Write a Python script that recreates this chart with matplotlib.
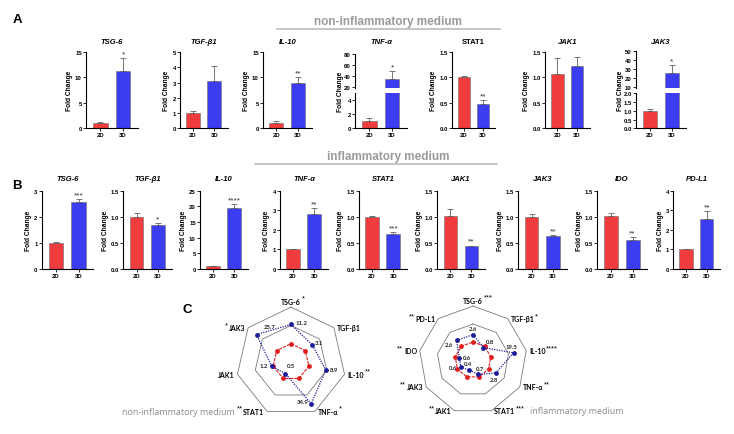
import numpy as np
import matplotlib
matplotlib.use("Agg")
import matplotlib.pyplot as plt
from matplotlib.lines import Line2D

plt.rcParams['font.family'] = ['Liberation Sans', 'DejaVu Sans']

### DATA ###

A_genes = ['TSG-6', 'TGF-β1', 'IL-10', 'TNF-α', 'STAT1', 'JAK1', 'JAK3']
A_2d = [1.0, 1.0, 1.1, 1.1, 1.0, 1.07, 1.0]
A_2d_err = [0.15, 0.12, 0.3, 0.4, 0.03, 0.32, 0.1]
A_3d = [11.2, 3.1, 8.9, 34.9, 0.48, 1.22, 25.7]
A_3d_err = [2.7, 1.0, 1.1, 14.0, 0.07, 0.19, 8.0]
A_stars = ['*', '', '**', '*', '**', '', '*']

B_genes = ['TSG-6', 'TGF-β1', 'IL-10', 'TNF-α', 'STAT1', 'JAK1', 'JAK3', 'IDO', 'PD-L1']
B_2d = [1.0, 1.0, 0.9, 1.0, 1.0, 1.01, 1.0, 1.01, 1.0]
B_2d_err = [0.05, 0.07, 0.2, 0.03, 0.02, 0.13, 0.05, 0.06, 0.01]
B_3d = [2.55, 0.85, 19.5, 2.8, 0.68, 0.44, 0.63, 0.55, 2.57]
B_3d_err = [0.13, 0.03, 1.2, 0.3, 0.02, 0.01, 0.02, 0.06, 0.38]
B_stars = ['***', '*', '****', '**', '***', '**', '**', '**', '**']

# radar (panel C)
radC1_labels = ['TSG-6', 'TGF-β1', 'IL-10', 'TNF-α', 'STAT1', 'JAK1', 'JAK3']
radC1_2d = [1, 1, 1, 1, 1, 1, 1]
radC1_3d = [11.2, 3.1, 8.9, 34.9, 0.5, 1.2, 25.7]
radC1_stars = ['*', '', '**', '*', '**', '', '*']

radC2_labels = ['TSG-6', 'TGF-β1', 'IL-10', 'TNF-α', 'STAT1', 'JAK1', 'JAK3', 'IDO', 'PD-L1']
radC2_2d = [1, 1, 1, 1, 1, 1, 1, 1, 1]
radC2_3d = [2.6, 0.8, 19.5, 2.8, 0.7, 0.4, 0.6, 0.6, 2.6]
radC2_stars = ['***', '*', '****', '**', '***', '**', '**', '**', '**']

radar_rings = [10, 100]

### LAYOUT ###

W, H = 734, 435
fig = plt.figure(figsize=(W / 100, H / 100), dpi=100)

RED = '#f03c3c'
BLUE = '#3c3cf0'
GREY_TXT = '#9a9a9a'


def px_axes(x0, y0, x1, y1):
    return fig.add_axes([x0 / W, 1 - y1 / H, (x1 - x0) / W, (y1 - y0) / H])


def fx(x):
    return x / W


def fy(y):
    return 1 - y / H


def style_ax(ax):
    ax.spines['top'].set_visible(False)
    ax.spines['right'].set_visible(False)
    ax.spines['left'].set_linewidth(0.8)
    ax.spines['bottom'].set_linewidth(0.8)
    ax.tick_params(length=2, width=0.6, labelsize=4.3, pad=1)
    for t in ax.get_xticklabels() + ax.get_yticklabels():
        t.set_fontweight('bold')


def draw_bars(ax, v2, e2, v3, e3):
    ax.bar([0, 1], [v2, v3], width=0.64, color=[RED, BLUE],
           edgecolor='#707070', linewidth=0.4, zorder=2)
    ax.errorbar([0, 1], [v2, v3], yerr=[[0, 0], [e2, e3]], fmt='none',
                ecolor='#606060', elinewidth=0.6, capsize=2, capthick=0.6, zorder=3)
    ax.set_xlim(-0.62, 1.65)


def star(ax, v, e, s):
    if s:
        ax.annotate(s, (1, v + e), xytext=(0, 0.5), textcoords='offset points',
                    ha='center', va='bottom', fontsize=6, color='#333333')


def bar_panel(box, v2, e2, v3, e3, ylim, yticks, labels, s, title, title_y, italic=True):
    ax = px_axes(*box)
    draw_bars(ax, v2, e2, v3, e3)
    ax.set_ylim(*ylim)
    ax.set_yticks(yticks)
    ax.set_yticklabels(labels)
    ax.set_xticks([0, 1])
    ax.set_xticklabels(['2D', '3D'])
    style_ax(ax)
    ax.set_ylabel('Fold Change', fontsize=4.8, fontweight='bold', labelpad=1.5)
    star(ax, v3, e3, s)
    fig.text(fx((box[0] + box[2]) / 2), fy(title_y), title, ha='center', va='center',
             fontsize=5.5, fontweight='bold', style='italic' if italic else 'normal')
    return ax


def broken_panel(box, split, v2, e2, v3, e3, up_lim, up_ticks, up_labels,
                 lo_lim, lo_ticks, lo_labels, s, title, title_y):
    x0, y0, x1, y1 = box
    top = px_axes(x0, y0, x1, split[0])
    bot = px_axes(x0, split[1], x1, y1)
    for ax in (top, bot):
        draw_bars(ax, v2, e2, v3, e3)
    top.set_ylim(*up_lim)
    top.set_yticks(up_ticks)
    top.set_yticklabels(up_labels)
    top.set_xticks([])
    bot.set_ylim(*lo_lim)
    bot.set_yticks(lo_ticks)
    bot.set_yticklabels(lo_labels)
    bot.set_xticks([0, 1])
    bot.set_xticklabels(['2D', '3D'])
    style_ax(top)
    style_ax(bot)
    top.spines['bottom'].set_visible(False)
    star(top, v3, e3, s)
    fig.text(fx(x0 - 15), fy((y0 + y1) / 2), 'Fold Change', rotation=90, ha='center',
             va='center', fontsize=4.8, fontweight='bold')
    fig.text(fx((x0 + x1) / 2), fy(title_y), title, ha='center', va='center',
             fontsize=5.5, fontweight='bold', style='italic')


### ROW A ###
A_x = [(86, 138), (180, 228), (263, 312), (355, 407), (452, 495), (545, 590), (636, 686)]
A_ylims = [(0, 15), (0, 5), (0, 15), None, (0, 1.5), (0, 1.5), None]
A_yticks = [[0, 5, 10, 15], [0, 1, 2, 3, 4, 5], [0, 5, 10, 15], None,
            [0, 0.5, 1.0, 1.5], [0, 0.5, 1.0, 1.5], None]
A_ylabels = [['0', '5', '10', '15'], ['0', '1', '2', '3', '4', '5'], ['0', '5', '10', '15'], None,
             ['0.0', '0.5', '1.0', '1.5'], ['0.0', '0.5', '1.0', '1.5'], None]

for i, g in enumerate(A_genes):
    xa, xb = A_x[i]
    if g == 'TNF-α':
        broken_panel((xa, 55, xb, 129.3), (89.3, 94.3), A_2d[i], A_2d_err[i], A_3d[i], A_3d_err[i],
                     (18.2, 80), [20, 40, 60, 80], ['20', '40', '60', '80'],
                     (0, 5), [0, 2, 4], ['0', '2', '4'], A_stars[i], g, 42)
    elif g == 'JAK3':
        broken_panel((xa, 51.7, xb, 129.3), (89.3, 94.3), A_2d[i], A_2d_err[i], A_3d[i], A_3d_err[i],
                     (8.5, 50), [10, 20, 30, 40, 50], ['10', '20', '30', '40', '50'],
                     (0, 2), [0, 0.5, 1.0, 1.5, 2.0], ['0.0', '0.5', '1.0', '1.5', '2.0'],
                     A_stars[i], g, 42)
    else:
        bar_panel((xa, 53, xb, 129.3), A_2d[i], A_2d_err[i], A_3d[i], A_3d_err[i],
                  A_ylims[i], A_yticks[i], A_ylabels[i], A_stars[i], g, 42,
                  italic=(g != 'STAT1'))

### ROW B ###
B_x = [(41.7, 93.3), (123.3, 171.7), (200, 248), (280, 328), (359, 407),
       (437.3, 485), (518.3, 566.7), (597.3, 646.7), (673.3, 720)]
tk15 = [0, 0.5, 1.0, 1.5]
lb15 = ['0.0', '0.5', '1.0', '1.5']
B_ylims = [(0, 3), (0, 1.5), (0, 25), (0, 4), (0, 1.5), (0, 1.5), (0, 1.5), (0, 1.5), (0, 4)]
B_yticks = [[0, 1, 2, 3], tk15, [0, 5, 10, 15, 20, 25], [0, 1, 2, 3, 4], tk15, tk15, tk15, tk15,
            [0, 1, 2, 3, 4]]
B_ylabels = [['0', '1', '2', '3'], lb15, ['0', '5', '10', '15', '20', '25'],
             ['0', '1', '2', '3', '4'], lb15, lb15, lb15, lb15, ['0', '1', '2', '3', '4']]

for i, g in enumerate(B_genes):
    xa, xb = B_x[i]
    bar_panel((xa, 191.7, xb, 270), B_2d[i], B_2d_err[i], B_3d[i], B_3d_err[i],
              B_ylims[i], B_yticks[i], B_ylabels[i], B_stars[i], g, 179.3)

### HEADERS ###
fig.text(fx(388), fy(22), 'non-inflammatory medium', ha='center', va='center',
         fontsize=8.5, fontweight='bold', color=GREY_TXT)
fig.add_artist(Line2D([fx(277), fx(500)], [fy(29.5), fy(29.5)], color='#b4b4b4', lw=1.1))
fig.text(fx(388), fy(157), 'inflammatory medium', ha='center', va='center',
         fontsize=8.5, fontweight='bold', color=GREY_TXT)
fig.add_artist(Line2D([fx(255), fx(497)], [fy(164.5), fy(164.5)], color='#b4b4b4', lw=1.1))

for lab, x, y in [('A', 17, 20), ('B', 17, 186), ('C', 187, 310)]:
    fig.text(fx(x), fy(y), lab, ha='center', va='center', fontsize=9.5, fontweight='bold')


### RADAR ###

def radar(box, cx, cy, labels, v2, v3, stars, val_offsets, scale=18.3):
    ax = px_axes(*box)
    x0, y0, x1, y1 = box
    ax.set_xlim((x0 - cx) / scale, (x1 - cx) / scale)
    ax.set_ylim((cy - y1) / scale, (cy - y0) / scale)
    ax.axis('off')
    n = len(labels)
    ang = np.pi / 2 - 2 * np.pi * np.arange(n) / n
    ca, sa = np.cos(ang), np.sin(ang)

    for ring in radar_rings:
        r = np.log10(ring) + 1
        ax.plot(np.append(r * ca, r * ca[0]), np.append(r * sa, r * sa[0]),
                color='#7a7a7a', lw=0.6, zorder=1)

    r2 = np.log10(np.array(v2, dtype=float)) + 1
    r3 = np.log10(np.array(v3, dtype=float)) + 1
    ax.plot(np.append(r2 * ca, r2[0] * ca[0]), np.append(r2 * sa, r2[0] * sa[0]),
            color='#e02020', lw=0.8, ls=(0, (3, 1)), zorder=2)
    ax.scatter(r2 * ca, r2 * sa, s=12, color='#e01e1e', zorder=3, linewidths=0)
    ax.plot(np.append(r3 * ca, r3[0] * ca[0]), np.append(r3 * sa, r3[0] * sa[0]),
            color='#1c1c9a', lw=0.9, ls=(0, (1, 1)), zorder=4)
    ax.scatter(r3 * ca, r3 * sa, s=12, color='#1c1c9a', zorder=5, linewidths=0)

    ro = np.log10(radar_rings[-1]) + 1
    for k in range(n):
        vx, vy = ro * ca[k], ro * sa[k]
        if abs(ca[k]) < 0.01:
            t = ax.annotate(labels[k], (vx, vy), xytext=(0, 1.5), textcoords='offset points',
                            ha='center', va='bottom', fontsize=5, fontweight='bold',
                            family='Lato')
            after = True
        elif ca[k] > 0:
            t = ax.annotate(labels[k], (vx, vy), xytext=(2, 0), textcoords='offset points',
                            ha='left', va='center', fontsize=5, fontweight='bold',
                            family='Lato')
            after = True
        else:
            t = ax.annotate(labels[k], (vx, vy), xytext=(-2, 0), textcoords='offset points',
                            ha='right', va='center', fontsize=5, fontweight='bold',
                            family='Lato')
            after = False
        if stars[k]:
            if after:
                ax.annotate(stars[k], (1, 0.95), xycoords=t, xytext=(0.5, 0),
                            textcoords='offset points', ha='left', va='center', fontsize=5.5)
            else:
                ax.annotate(stars[k], (0, 0.95), xycoords=t, xytext=(-0.5, 0),
                            textcoords='offset points', ha='right', va='center', fontsize=5.5)

    for k in range(n):
        dx, dy, ha = val_offsets[k]
        ax.annotate(f'{v3[k]:g}', (r3[k] * ca[k], r3[k] * sa[k]), xytext=(dx, dy),
                    textcoords='offset points', ha=ha, va='center', fontsize=4.3,
                    fontweight='bold', family='Lato', color='#222222')


# offsets in points for value labels (dx, dy, ha)
offs1 = [(3, 1.5, 'left'), (2, 1.5, 'left'), (3, 0, 'left'), (-2, 1.5, 'right'),
         (4, 6, 'center'), (-3, 1, 'right'), (5, 6, 'left')]
offs2 = [(0, 4.5, 'center'), (1.5, 4.5, 'left'), (-1.5, 4.5, 'center'), (-1, -4.5, 'center'),
         (1, 4.5, 'center'), (-1, 4.5, 'center'), (-2.5, 0, 'right'), (3, 0, 'left'),
         (-2.5, -3, 'right')]

radar((200, 290, 380, 430), 291, 363, radC1_labels, radC1_2d, radC1_3d, radC1_stars, offs1)
radar((385, 290, 565, 430), 473, 361, radC2_labels, radC2_2d, radC2_3d, radC2_stars, offs2,
      scale=18.0)

fig.text(fx(122), fy(413), 'non-inflammatory medium', ha='left', va='center',
         fontsize=6.5, family='Open Sans', color='#8c8c8c')
fig.text(fx(530), fy(411.5), 'inflammatory medium', ha='left', va='center',
         fontsize=6.5, family='Open Sans', color='#8c8c8c')

fig.savefig('out.png', dpi=100)
